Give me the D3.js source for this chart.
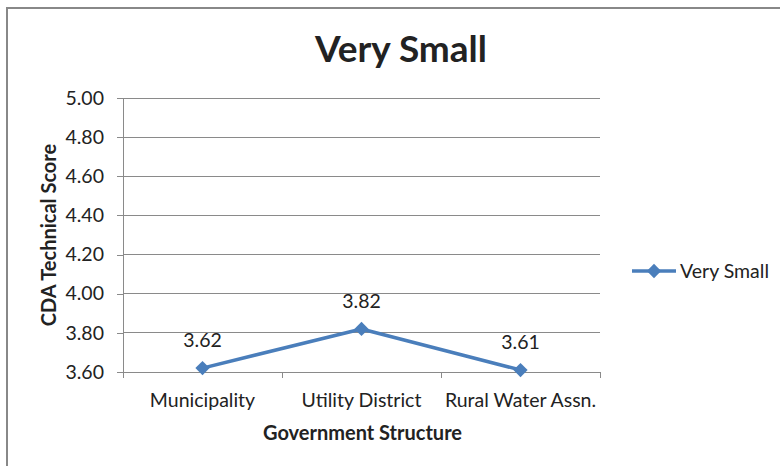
<!DOCTYPE html>
<html>
<head>
<meta charset="utf-8">
<script src="https://cdn.jsdelivr.net/npm/d3@7"></script>
<style>
  html, body { margin: 0; padding: 0; background: #fff; }
  svg { display: block; }
  text { font-family: Lato, "Open Sans", "Liberation Sans", sans-serif; fill: #222; }
</style>
</head>
<body>
<svg id="chart" width="780" height="466"></svg>
<script>
// Chart data
const categories = ["Municipality", "Utility District", "Rural Water Assn."];
const seriesName = "Very Small";
const seriesValues = [3.62, 3.82, 3.61];
const yTicks = [3.60, 3.80, 4.00, 4.20, 4.40, 4.60, 4.80, 5.00];

const svg = d3.select("#chart");
const W = 780, H = 466;
const plot = { left: 123, right: 600, top: 98, bottom: 372 };
const lineColor = "#4a7ebb";
const gridColor = "#8a8a8a";
const labelSize = 19.5;

// Outer chart frame
svg.append("rect")
  .attr("x", 7).attr("y", 8)
  .attr("width", W + 10).attr("height", H + 10)
  .attr("fill", "#fff")
  .attr("stroke", "#888").attr("stroke-width", 2);

const x = d3.scaleBand().domain(categories).range([plot.left, plot.right]);
const y = d3.scaleLinear().domain([3.6, 5.0]).range([plot.bottom, plot.top]);

// Horizontal gridlines
svg.append("g")
  .selectAll("line")
  .data(yTicks.slice(1))
  .join("line")
  .attr("x1", plot.left).attr("x2", plot.right)
  .attr("y1", d => y(d)).attr("y2", d => y(d))
  .attr("stroke", gridColor).attr("stroke-width", 1)
  .attr("shape-rendering", "crispEdges");

// Y axis
const yAxis = svg.append("g")
  .attr("transform", `translate(${plot.left},0)`)
  .call(d3.axisLeft(y).tickValues(yTicks).tickFormat(d3.format(".2f")).tickSizeOuter(0).tickSize(6).tickPadding(13));
yAxis.attr("font-family", null).attr("font-size", null);
yAxis.select(".domain").attr("stroke", gridColor).attr("shape-rendering", "crispEdges");
yAxis.selectAll(".tick line").attr("stroke", gridColor).attr("shape-rendering", "crispEdges");
yAxis.selectAll(".tick text")
  .attr("font-size", labelSize).attr("fill", "#222");

// X axis with ticks on category boundaries
const xAxisG = svg.append("g").attr("transform", `translate(0,${plot.bottom})`);
xAxisG.append("line")
  .attr("x1", plot.left).attr("x2", plot.right)
  .attr("y1", 0).attr("y2", 0)
  .attr("stroke", gridColor).attr("shape-rendering", "crispEdges");
const boundaries = categories.map(c => x(c)).concat([x(categories[categories.length - 1]) + x.bandwidth()]);
xAxisG.selectAll("line.tick")
  .data(boundaries)
  .join("line")
  .attr("class", "tick")
  .attr("x1", d => d).attr("x2", d => d)
  .attr("y1", 0).attr("y2", 6)
  .attr("stroke", gridColor).attr("shape-rendering", "crispEdges");
xAxisG.selectAll("text")
  .data(categories)
  .join("text")
  .attr("x", d => x(d) + x.bandwidth() / 2)
  .attr("y", 35)
  .attr("text-anchor", "middle")
  .attr("font-size", labelSize)
  .text(d => d);

// Series line
const pts = categories.map((c, i) => ({ c, v: seriesValues[i] }));
const line = d3.line().x(d => x(d.c) + x.bandwidth() / 2).y(d => y(d.v));
svg.append("path")
  .datum(pts)
  .attr("d", line)
  .attr("fill", "none")
  .attr("stroke", lineColor)
  .attr("stroke-width", 3.5)
  .attr("stroke-linejoin", "round");

// Diamond markers
const diamond = d3.symbol().type(d3.symbolDiamond2).size(130);
svg.append("g")
  .selectAll("path")
  .data(pts)
  .join("path")
  .attr("transform", d => `translate(${x(d.c) + x.bandwidth() / 2},${y(d.v)})`)
  .attr("d", diamond)
  .attr("fill", lineColor);

// Data labels
svg.append("g")
  .selectAll("text")
  .data(pts)
  .join("text")
  .attr("x", d => x(d.c) + x.bandwidth() / 2)
  .attr("y", d => y(d.v) - 21)
  .attr("text-anchor", "middle")
  .attr("font-size", labelSize)
  .text(d => d3.format(".2f")(d.v));

// Title
svg.append("text")
  .attr("x", 401).attr("y", 62)
  .attr("text-anchor", "middle")
  .attr("font-size", 37)
  .attr("font-weight", "bold")
  .attr("fill", "#000")
  .text(seriesName);

// Axis titles
svg.append("text")
  .attr("x", (plot.left + plot.right) / 2 + 1).attr("y", 440)
  .attr("text-anchor", "middle")
  .attr("font-size", 20)
  .attr("font-weight", "bold")
  .attr("fill", "#000")
  .text("Government Structure");

svg.append("text")
  .attr("transform", `translate(56,${(plot.top + plot.bottom) / 2}) rotate(-90)`)
  .attr("text-anchor", "middle")
  .attr("font-size", 20)
  .attr("font-weight", "bold")
  .attr("fill", "#000")
  .text("CDA Technical Score");

// Legend
const lg = svg.append("g").attr("transform", "translate(632,271)");
lg.append("line")
  .attr("x1", 0).attr("x2", 44).attr("y1", 0).attr("y2", 0)
  .attr("stroke", lineColor).attr("stroke-width", 3.5);
lg.append("path")
  .attr("transform", "translate(22,0)")
  .attr("d", diamond)
  .attr("fill", lineColor);
lg.append("text")
  .attr("x", 48).attr("y", 7)
  .attr("font-size", labelSize)
  .text(seriesName);
</script>
</body>
</html>
